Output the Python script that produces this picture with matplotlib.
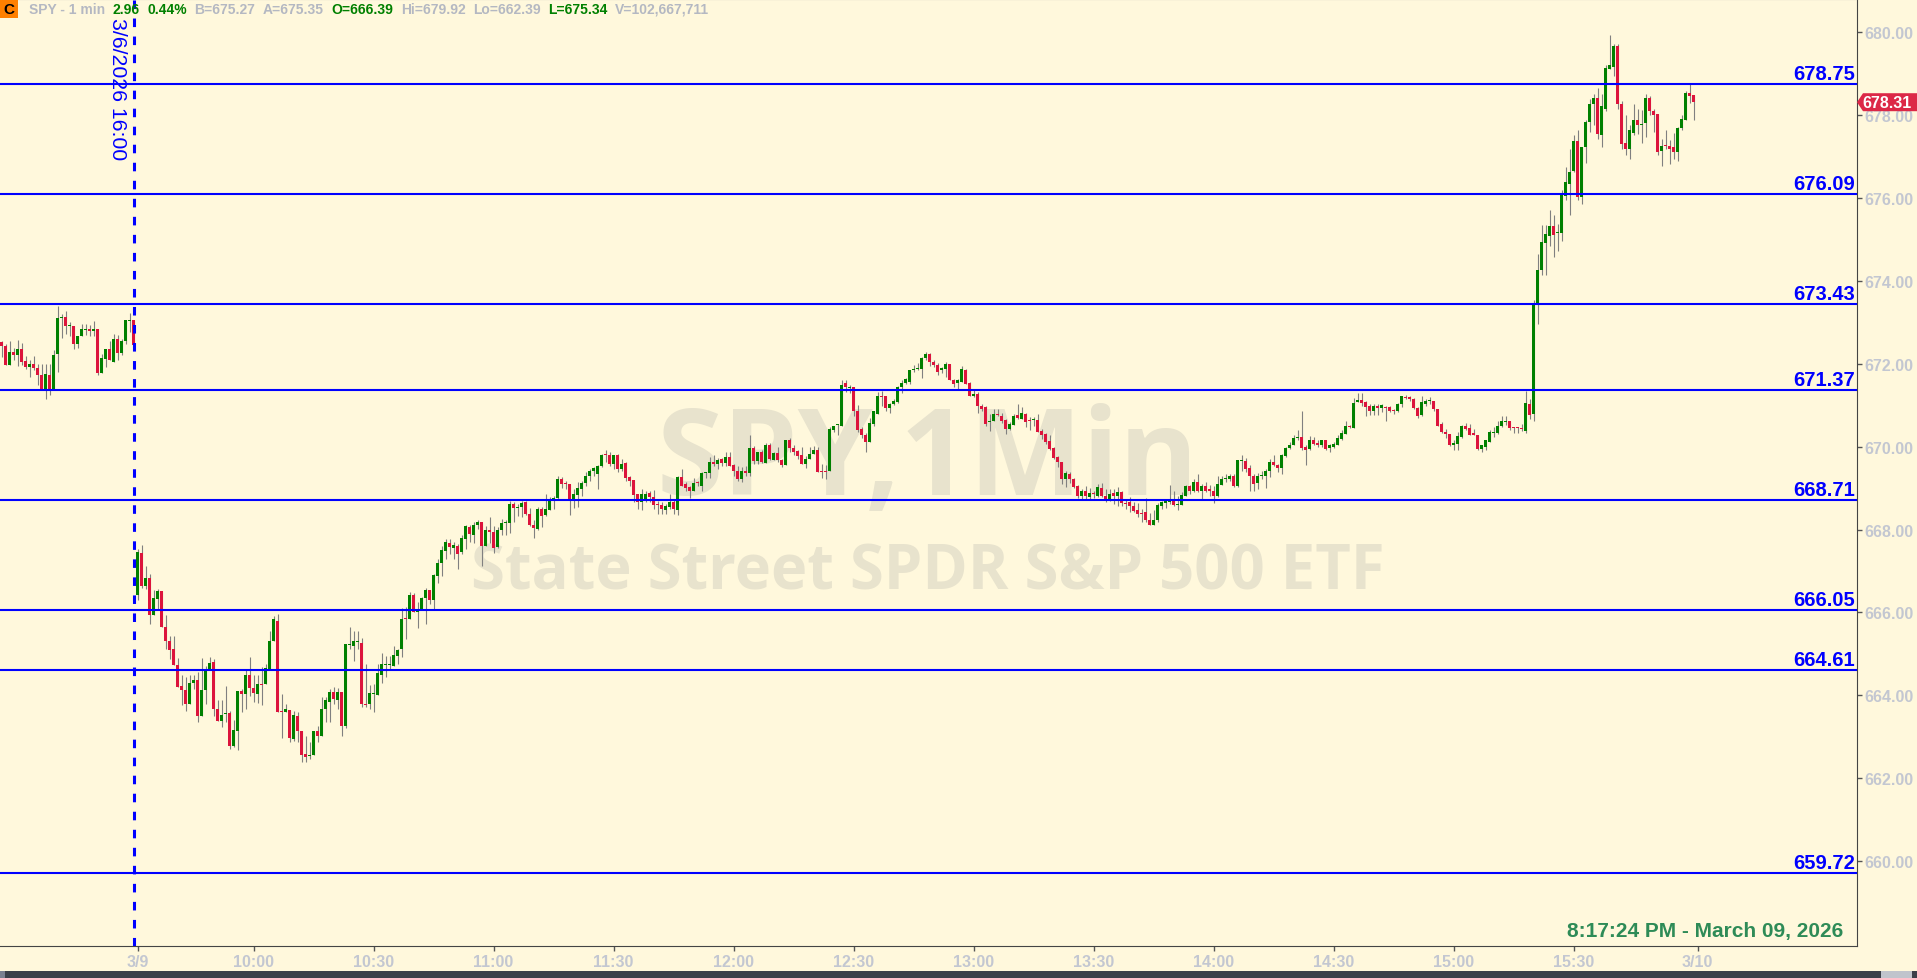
import matplotlib
matplotlib.use("Agg")
import matplotlib.pyplot as plt
import matplotlib.transforms as mtransforms
from matplotlib.patches import Polygon, Rectangle
import numpy as np

# SPY 1-min bars, last 34 bars of 3/6 then the full 3/9 session
prev_open = [672.52, 672.42, 671.97, 672.29, 672.22, 672.36, 672.07, 671.93, 671.99, 671.90,
             671.73, 671.40, 671.73, 671.40, 672.24, 673.11, 673.13, 672.91, 672.90, 672.48,
             672.66, 672.83, 672.84, 672.78, 672.84, 671.78, 672.12, 672.36, 672.05, 672.60,
             672.26, 672.54, 673.04, 673.06]
prev_high = [672.56, 672.48, 672.54, 672.38, 672.58, 672.50, 672.18, 672.09, 672.19, 671.99,
             671.99, 671.99, 671.99, 672.34, 673.40, 673.20, 673.28, 673.00, 672.90, 672.67,
             672.96, 672.96, 672.94, 673.03, 672.84, 672.24, 672.36, 672.54, 672.72, 672.70,
             672.60, 673.06, 673.23, 673.06]
prev_low = [672.16, 671.97, 671.97, 672.10, 671.94, 671.97, 671.88, 671.67, 671.85, 671.49,
            671.40, 671.14, 671.25, 671.40, 671.80, 672.62, 672.71, 672.68, 672.36, 672.38,
            672.66, 672.70, 672.68, 672.68, 671.73, 671.78, 671.93, 672.09, 672.05, 672.08,
            672.20, 672.48, 672.76, 672.34]
prev_close = [672.42, 671.97, 672.29, 672.22, 672.36, 672.05, 671.93, 671.99, 671.90, 671.72,
              671.40, 671.76, 671.40, 672.21, 673.11, 673.13, 672.92, 672.92, 672.48, 672.67,
              672.84, 672.84, 672.78, 672.84, 671.78, 672.14, 672.36, 672.09, 672.60, 672.26,
              672.55, 673.06, 673.06, 672.46]

sess_open = [
    666.41, 667.44, 666.63, 666.83, 665.93, 666.33, 666.52, 665.64, 665.30, 665.12,
    664.74, 664.23, 664.12, 663.80, 664.29, 664.38, 663.49, 664.12, 664.64, 664.80,
    663.67, 663.38, 663.55, 663.58, 662.77, 663.14, 664.10, 664.04, 664.48, 664.17,
    664.04, 664.27, 664.28, 664.64, 665.32, 665.80, 663.62, 663.61, 663.65, 662.94,
    663.50, 663.15, 662.58, 662.54, 662.57, 663.14, 663.03, 663.67, 663.85, 664.08,
    663.89, 664.09, 663.27, 665.22, 665.20, 665.30, 665.27, 663.80, 663.79, 664.04,
    664.02, 664.50, 664.74, 664.75, 664.70, 664.94, 665.12, 665.86, 665.85, 666.42,
    666.02, 666.09, 666.34, 666.55, 666.31, 666.89, 667.20, 667.49, 667.68, 667.56,
    667.61, 667.45, 667.78, 668.07, 667.88, 668.10, 668.18, 667.61, 668.00, 667.94,
    667.57, 667.98, 668.15, 668.15, 668.62, 668.53, 668.54, 668.66, 668.38, 668.11,
    668.02, 668.50, 668.34, 668.48, 668.72, 668.76, 669.22, 669.11, 669.10, 668.70,
    668.84, 668.98, 669.13, 669.29, 669.41, 669.33, 669.53, 669.81, 669.80, 669.59,
    669.79, 669.45, 669.61, 669.26, 669.20, 668.86, 668.66, 668.74, 668.89, 668.78,
    668.61, 668.60, 668.48, 668.54, 668.66, 668.48, 669.26, 669.09, 669.02, 668.92,
    669.14, 669.06, 669.36, 669.36, 669.64, 669.58, 669.71, 669.61, 669.75, 669.56,
    669.42, 669.22, 669.42, 669.36, 669.96, 669.66, 669.87, 669.61, 670.04, 669.67,
    669.85, 669.69, 669.56, 670.15, 669.97, 669.89, 669.79, 669.59, 669.71, 669.83,
    669.92, 669.42, 669.42, 669.42, 670.39, 670.52, 670.51, 671.54, 671.43, 671.44,
    670.85, 670.43, 670.29, 670.12, 670.55, 670.79, 671.22, 671.22, 670.94, 671.02,
    671.07, 671.44, 671.54, 671.56, 671.85, 671.87, 671.88, 672.14, 672.24, 672.05,
    671.97, 671.84, 671.88, 672.00, 671.62, 671.53, 671.57, 671.86, 671.53, 671.22,
    671.27, 670.99, 670.95, 670.61, 670.61, 670.79, 670.75, 670.65, 670.43, 670.53,
    670.77, 670.67, 670.79, 670.64, 670.65, 670.65, 670.37, 670.31, 670.13, 669.97,
    669.75, 669.63, 669.23, 669.34, 669.23, 669.06, 668.81, 668.93, 668.78, 668.88,
    668.82, 669.01, 668.81, 668.74, 668.88, 668.81, 668.90, 668.65, 668.66, 668.58,
    668.46, 668.40, 668.42, 668.24, 668.10, 668.22, 668.58, 668.64, 668.66, 668.70,
    668.61, 668.60, 668.82, 669.04, 668.92, 669.14, 668.92, 669.05, 668.98, 668.94,
    668.81, 669.08, 669.22, 669.21, 669.29, 669.05, 669.66, 669.65, 669.48, 669.30,
    669.12, 669.29, 669.29, 669.41, 669.63, 669.56, 669.49, 669.77, 669.97, 670.03,
    670.21, 670.23, 669.99, 669.95, 670.16, 670.09, 670.03, 670.15, 669.96, 670.00,
    670.04, 670.19, 670.31, 670.50, 670.45, 671.07, 671.13, 671.07, 670.97, 670.85,
    670.99, 670.94, 670.96, 670.96, 670.88, 670.85, 671.03, 671.18, 671.19, 671.15,
    670.93, 670.77, 671.03, 671.10, 671.11, 670.90, 670.55, 670.36, 670.31, 670.03,
    670.07, 670.23, 670.49, 670.45, 670.31, 670.27, 669.95, 669.99, 670.12, 670.33,
    670.33, 670.49, 670.60, 670.61, 670.46, 670.46, 670.44, 670.37, 671.03, 670.78,
    673.42, 674.25, 674.92, 675.09, 675.32, 675.16, 675.16, 676.04, 676.34, 676.64,
    677.38, 676.02, 677.22, 677.83, 678.27, 678.41, 677.52, 678.15, 679.11, 679.17,
    679.66, 678.27, 677.33, 677.18, 677.57, 677.87, 677.77, 677.81, 678.41, 678.10,
    678.03, 677.14, 677.26, 677.25, 677.22, 677.12, 677.68, 677.88, 678.54, 678.49,
]
sess_high = [
    667.53, 667.63, 667.13, 666.93, 666.53, 666.57, 666.52, 665.94, 665.44, 665.44,
    664.90, 664.49, 664.44, 664.50, 664.48, 664.56, 664.90, 664.72, 664.92, 664.87,
    663.89, 663.88, 664.22, 663.63, 663.41, 664.10, 664.16, 664.60, 664.92, 664.48,
    664.48, 664.68, 664.76, 665.56, 665.91, 665.97, 664.04, 663.79, 663.65, 663.63,
    663.59, 663.15, 663.02, 662.87, 663.15, 663.27, 663.95, 663.95, 664.16, 664.20,
    664.17, 664.09, 665.24, 665.64, 665.56, 665.55, 665.38, 664.76, 664.24, 664.28,
    664.76, 665.01, 664.96, 664.96, 665.19, 665.12, 666.10, 666.13, 666.49, 666.47,
    666.25, 666.37, 666.59, 666.55, 666.93, 667.28, 667.61, 667.78, 667.78, 667.69,
    667.65, 667.88, 668.11, 668.11, 668.18, 668.22, 668.19, 668.08, 668.30, 668.08,
    668.06, 668.26, 668.22, 668.68, 668.66, 668.62, 668.70, 668.70, 668.52, 668.22,
    668.54, 668.54, 668.86, 668.78, 668.80, 669.29, 669.26, 669.16, 669.10, 668.98,
    669.14, 669.16, 669.38, 669.46, 669.50, 669.56, 669.83, 669.93, 669.87, 669.79,
    669.83, 669.71, 669.63, 669.29, 669.20, 668.86, 668.98, 668.94, 668.94, 668.96,
    668.70, 668.66, 668.62, 668.86, 668.74, 669.30, 669.46, 669.14, 669.06, 669.24,
    669.18, 669.40, 669.40, 669.75, 669.80, 669.72, 669.72, 669.87, 669.88, 669.58,
    669.54, 669.50, 669.54, 670.27, 670.01, 669.88, 669.91, 670.09, 670.09, 669.87,
    669.99, 669.71, 670.15, 670.20, 670.03, 669.91, 669.99, 669.77, 669.99, 670.01,
    669.99, 669.59, 669.56, 670.47, 670.51, 670.55, 671.62, 671.60, 671.48, 671.44,
    671.01, 670.47, 670.33, 670.69, 670.87, 671.33, 671.35, 671.22, 671.06, 671.15,
    671.46, 671.60, 671.65, 671.84, 671.96, 672.02, 672.16, 672.28, 672.26, 672.10,
    672.02, 671.92, 672.04, 672.00, 671.64, 671.64, 671.94, 671.88, 671.56, 671.39,
    671.31, 671.03, 670.97, 670.79, 670.90, 670.90, 670.82, 670.67, 670.59, 670.79,
    671.03, 670.95, 670.82, 670.71, 670.71, 670.79, 670.43, 670.33, 670.27, 669.99,
    669.77, 669.64, 669.42, 669.40, 669.24, 669.08, 668.97, 669.06, 669.00, 668.94,
    669.10, 669.13, 668.98, 668.98, 668.97, 669.02, 668.94, 668.72, 668.78, 668.66,
    668.64, 668.50, 668.76, 668.40, 668.46, 668.64, 668.68, 668.74, 669.08, 668.92,
    668.82, 668.90, 669.08, 669.08, 669.21, 669.34, 669.10, 669.14, 669.08, 669.05,
    669.30, 669.30, 669.34, 669.34, 669.34, 669.67, 669.80, 669.72, 669.55, 669.34,
    669.37, 669.42, 669.45, 669.71, 669.79, 669.59, 669.83, 670.00, 670.11, 670.27,
    670.41, 670.87, 670.03, 670.25, 670.23, 670.15, 670.17, 670.16, 670.07, 670.12,
    670.27, 670.39, 670.61, 670.53, 671.17, 671.30, 671.30, 671.11, 671.03, 671.03,
    671.03, 671.03, 670.99, 670.99, 670.91, 671.06, 671.23, 671.25, 671.23, 671.17,
    670.95, 671.23, 671.14, 671.19, 671.11, 670.90, 670.59, 670.43, 670.31, 670.15,
    670.35, 670.53, 670.57, 670.55, 670.43, 670.27, 670.04, 670.17, 670.39, 670.47,
    670.63, 670.75, 670.75, 670.61, 670.47, 670.47, 670.55, 671.35, 671.14, 673.53,
    674.65, 675.35, 675.35, 675.70, 675.58, 675.38, 676.18, 676.74, 677.19, 677.52,
    677.63, 677.24, 677.87, 678.39, 678.51, 678.66, 678.51, 679.20, 679.92, 679.72,
    679.72, 678.35, 677.99, 677.75, 678.27, 678.15, 678.13, 678.51, 678.46, 678.15,
    678.03, 677.43, 677.64, 677.39, 677.57, 677.71, 677.99, 678.57, 678.74, 678.49,
]
sess_low = [
    666.29, 666.59, 666.57, 665.73, 665.93, 666.09, 665.64, 665.11, 664.88, 664.73,
    664.19, 663.77, 663.63, 663.80, 664.16, 663.35, 663.49, 663.78, 664.64, 663.51,
    663.37, 663.23, 663.35, 662.71, 662.75, 662.69, 663.59, 663.67, 663.99, 663.85,
    663.81, 663.76, 664.28, 664.60, 665.32, 663.61, 662.97, 663.61, 662.87, 662.89,
    662.87, 662.39, 662.39, 662.47, 662.55, 662.87, 663.03, 663.35, 663.35, 663.79,
    663.67, 663.02, 663.21, 665.12, 664.82, 665.12, 663.71, 663.71, 663.67, 663.61,
    664.02, 664.30, 664.44, 664.60, 664.70, 664.76, 664.92, 665.36, 665.85, 666.02,
    665.62, 666.05, 665.73, 666.21, 666.09, 666.71, 666.89, 667.28, 667.41, 667.28,
    667.04, 667.41, 667.53, 667.69, 667.68, 668.02, 667.12, 667.60, 667.68, 667.43,
    667.56, 667.86, 667.87, 667.92, 668.19, 668.32, 668.30, 668.34, 668.08, 667.79,
    668.00, 668.06, 668.32, 668.46, 668.50, 668.74, 669.00, 668.98, 668.34, 668.52,
    668.54, 668.82, 669.06, 669.16, 669.29, 668.98, 669.50, 669.64, 669.54, 669.46,
    669.40, 669.42, 669.18, 669.06, 668.66, 668.50, 668.46, 668.66, 668.66, 668.50,
    668.38, 668.38, 668.38, 668.50, 668.38, 668.35, 669.06, 668.92, 668.76, 668.92,
    669.06, 668.94, 669.24, 669.24, 669.54, 669.46, 669.53, 669.54, 669.54, 669.30,
    669.18, 669.14, 669.30, 669.29, 669.58, 669.58, 669.61, 669.61, 669.69, 669.67,
    669.64, 669.51, 669.55, 669.88, 669.79, 669.71, 669.59, 669.48, 669.71, 669.83,
    669.40, 669.24, 669.22, 669.42, 670.35, 670.27, 670.51, 671.31, 671.30, 670.74,
    670.35, 670.20, 669.88, 670.12, 670.49, 670.79, 670.99, 670.87, 670.82, 671.01,
    671.06, 671.30, 671.52, 671.52, 671.80, 671.86, 671.65, 672.08, 671.94, 671.92,
    671.72, 671.78, 671.68, 671.60, 671.44, 671.40, 671.57, 671.51, 671.22, 671.19,
    670.82, 670.85, 670.49, 670.37, 670.61, 670.75, 670.57, 670.31, 670.41, 670.53,
    670.67, 670.67, 670.47, 670.39, 670.49, 670.35, 670.19, 670.07, 669.91, 669.71,
    669.51, 669.10, 669.02, 669.13, 669.00, 668.76, 668.74, 668.74, 668.74, 668.76,
    668.78, 668.78, 668.66, 668.70, 668.62, 668.57, 668.56, 668.50, 668.43, 668.42,
    668.30, 668.18, 668.19, 668.10, 668.10, 668.19, 668.50, 668.52, 668.62, 668.58,
    668.46, 668.60, 668.82, 668.86, 668.90, 668.90, 668.73, 668.90, 668.81, 668.64,
    668.78, 669.08, 669.14, 669.16, 669.02, 669.02, 669.42, 669.40, 668.94, 668.94,
    668.98, 669.22, 669.00, 669.26, 669.53, 669.40, 669.33, 669.75, 669.95, 670.03,
    670.15, 669.91, 669.56, 669.93, 670.04, 669.99, 669.99, 669.93, 669.88, 669.96,
    670.03, 670.17, 670.31, 670.45, 670.45, 671.07, 670.98, 670.75, 670.77, 670.77,
    670.77, 670.83, 670.61, 670.83, 670.79, 670.83, 670.95, 671.14, 671.11, 670.90,
    670.69, 670.75, 670.99, 671.03, 670.87, 670.49, 670.33, 670.20, 670.01, 669.93,
    669.91, 670.20, 670.39, 670.29, 670.27, 669.93, 669.88, 669.91, 670.11, 670.23,
    670.31, 670.47, 670.53, 670.41, 670.33, 670.33, 670.37, 670.33, 670.67, 670.63,
    672.96, 674.15, 674.15, 674.84, 674.57, 674.71, 674.97, 675.96, 675.59, 676.62,
    675.94, 675.86, 676.85, 677.59, 677.76, 677.42, 677.22, 678.09, 679.10, 678.95,
    678.15, 677.17, 677.04, 676.94, 677.51, 677.55, 677.33, 677.47, 677.99, 677.59,
    677.04, 676.77, 677.18, 676.81, 676.93, 676.90, 677.65, 677.87, 678.29, 677.89,
]
sess_close = [
    667.47, 666.65, 666.83, 665.93, 666.35, 666.52, 665.64, 665.31, 665.09, 664.74,
    664.19, 664.12, 663.78, 664.30, 664.38, 663.49, 664.12, 664.58, 664.78, 663.66,
    663.37, 663.53, 663.56, 662.79, 663.17, 664.10, 664.04, 664.48, 664.18, 664.06,
    664.28, 664.25, 664.66, 665.32, 665.85, 663.61, 663.60, 663.67, 662.97, 663.53,
    663.14, 662.56, 662.52, 662.56, 663.15, 663.02, 663.67, 663.88, 664.08, 663.92,
    664.09, 663.25, 665.23, 665.24, 665.30, 665.32, 663.79, 663.77, 664.06, 664.06,
    664.54, 664.75, 664.76, 664.76, 664.98, 665.10, 665.85, 665.84, 666.42, 666.02,
    666.05, 666.35, 666.55, 666.29, 666.91, 667.20, 667.51, 667.69, 667.57, 667.63,
    667.41, 667.80, 668.08, 667.90, 668.11, 668.19, 667.60, 668.00, 667.94, 667.56,
    668.00, 668.16, 668.17, 668.62, 668.51, 668.55, 668.64, 668.38, 668.11, 668.03,
    668.50, 668.32, 668.50, 668.72, 668.76, 669.22, 669.09, 669.09, 668.70, 668.86,
    669.00, 669.13, 669.30, 669.42, 669.48, 669.54, 669.81, 669.79, 669.59, 669.79,
    669.45, 669.59, 669.25, 669.18, 668.84, 668.66, 668.86, 668.86, 668.78, 668.60,
    668.59, 668.50, 668.58, 668.66, 668.50, 669.26, 669.06, 669.01, 668.92, 669.13,
    669.12, 669.37, 669.38, 669.62, 669.58, 669.69, 669.61, 669.75, 669.54, 669.42,
    669.22, 669.42, 669.36, 669.96, 669.66, 669.87, 669.63, 670.04, 669.71, 669.85,
    669.67, 669.55, 670.15, 669.96, 669.87, 669.77, 669.59, 669.71, 669.83, 669.92,
    669.40, 669.40, 669.40, 670.43, 670.49, 670.53, 671.49, 671.44, 671.44, 670.85,
    670.41, 670.29, 670.11, 670.57, 670.85, 671.22, 671.20, 670.94, 671.03, 671.09,
    671.44, 671.54, 671.64, 671.84, 671.86, 671.88, 672.14, 672.24, 672.05, 671.96,
    671.81, 671.90, 672.00, 671.60, 671.51, 671.60, 671.88, 671.51, 671.22, 671.27,
    670.97, 670.91, 670.55, 670.62, 670.79, 670.77, 670.63, 670.43, 670.55, 670.74,
    670.69, 670.82, 670.59, 670.62, 670.66, 670.35, 670.27, 670.12, 669.95, 669.73,
    669.63, 669.21, 669.37, 669.21, 669.02, 668.81, 668.93, 668.81, 668.89, 668.87,
    669.02, 668.81, 668.70, 668.86, 668.81, 668.90, 668.64, 668.63, 668.56, 668.44,
    668.38, 668.38, 668.22, 668.10, 668.23, 668.60, 668.66, 668.68, 668.70, 668.60,
    668.62, 668.84, 669.05, 668.94, 669.14, 668.92, 669.05, 668.94, 668.92, 668.81,
    669.10, 669.22, 669.23, 669.29, 669.05, 669.67, 669.67, 669.46, 669.30, 669.10,
    669.29, 669.30, 669.42, 669.63, 669.55, 669.49, 669.80, 669.97, 670.05, 670.20,
    670.23, 669.97, 669.93, 670.16, 670.07, 670.03, 670.15, 669.95, 670.03, 670.07,
    670.20, 670.33, 670.49, 670.48, 671.06, 671.13, 671.06, 670.95, 670.85, 670.97,
    670.93, 671.01, 670.94, 670.87, 670.87, 671.03, 671.21, 671.17, 671.14, 670.93,
    670.75, 671.07, 671.09, 671.11, 670.90, 670.51, 670.35, 670.31, 670.03, 670.09,
    670.25, 670.51, 670.43, 670.29, 670.30, 669.95, 670.04, 670.15, 670.35, 670.34,
    670.51, 670.61, 670.61, 670.45, 670.45, 670.45, 670.42, 671.06, 670.77, 673.45,
    674.25, 674.93, 675.13, 675.32, 675.11, 675.17, 676.06, 676.38, 676.62, 677.38,
    676.02, 677.24, 677.84, 678.27, 678.41, 677.55, 678.21, 679.13, 679.20, 679.66,
    678.27, 677.31, 677.17, 677.64, 677.88, 677.75, 677.78, 678.41, 678.09, 678.00,
    677.12, 677.25, 677.25, 677.18, 677.10, 677.68, 677.91, 678.54, 678.45, 678.31,
]

levels = [678.75, 676.09, 673.43, 671.37, 668.71, 666.05, 664.61, 659.72]
ytick_vals = [660, 662, 664, 666, 668, 670, 672, 674, 676, 678, 680]
xtick_labels = ["3/9", "10:00", "10:30", "11:00", "11:30", "12:00", "12:30", "13:00",
                "13:30", "14:00", "14:30", "15:00", "15:30", "3/10"]
xtick_bars = [0, 29, 59, 89, 119, 149, 179, 209, 239, 269, 299, 329, 359, 390]

header = [("SPY - 1 min", "gray"), ("2.96", "green"), ("0.44%", "green"),
          ("B=675.27", "gray"), ("A=675.35", "gray"), ("O=666.39", "green"),
          ("Hi=679.92", "gray"), ("Lo=662.39", "gray"), ("L=675.34", "green"),
          ("V=102,667,711", "gray")]

assert len(sess_open) == len(sess_high) == len(sess_low) == len(sess_close) == 390
assert len(prev_open) == len(prev_high) == len(prev_low) == len(prev_close) == 34

W, H = 1917, 979
BG = "#fff8dc"
UP, DN, WICK = "#008000", "#dc143c", "#808080"
BLUE = "#0000ff"
AXTXT = "#c3c7d1"
FONT = "Liberation Sans"


def fy(py):
    # pixel row measured from the top -> figure fraction
    return 1 - py / H


fig = plt.figure(figsize=(W / 100, H / 100), dpi=100, facecolor=BG)
ax_bottom = 946.7
ax = fig.add_axes([0, fy(ax_bottom), 1857 / W, ax_bottom / H], facecolor=BG)

o = np.array(prev_open + sess_open)
h = np.array(prev_high + sess_high)
l = np.array(prev_low + sess_low)
c = np.array(prev_close + sess_close)
x = np.arange(-len(prev_open), len(sess_open))

hi = np.maximum(h, np.maximum(o, c))
lo = np.minimum(l, np.minimum(o, c))
up = c >= o
body_h = np.abs(c - o)
body_lo = np.minimum(o, c)
min_h = 0.025
small = body_h < min_h
body_lo = np.where(small, (o + c) / 2 - min_h / 2, body_lo)
body_h = np.maximum(body_h, min_h)

ax.vlines(x, lo, hi, color=WICK, lw=0.8, zorder=2)
ax.bar(x, body_h, bottom=body_lo, width=0.72, color=np.where(up, UP, DN), lw=0, zorder=3)

ax.set_xlim(-34.375, 429.875)
ax.set_ylim(657.96, 680.80)

# support / resistance levels
lab_tr = mtransforms.offset_copy(ax.get_yaxis_transform(), fig=fig, x=-2, y=5, units="dots")
for lv in levels:
    ax.axhline(lv, color=BLUE, lw=1.5, zorder=4)
    ax.text(1.0, lv, f"{lv:.2f}", transform=lab_tr, ha="right", va="baseline",
            color=BLUE, fontsize=14.5, fontweight="bold", family=FONT, zorder=5)

# previous close marker
ax.axvline(-1, color=BLUE, lw=2.2, linestyle=(0, (2.8, 3.1)), zorder=4)
dlab = fig.text(117 / W, fy(18), "3/6/2026 16:00", rotation=270, ha="center", va="top",
                color=BLUE, fontsize=15, family=FONT)

# watermark
wm1 = ax.text(927 / W, fy(495), "SPY,1Min", transform=fig.transFigure, ha="center",
              va="baseline", color="#e8e3cd", fontsize=100, fontweight="bold",
              family="Open Sans", zorder=1)
wm2 = ax.text(928 / W, fy(589), "State Street SPDR S&P 500 ETF", transform=fig.transFigure,
              ha="center", va="baseline", color="#e8e3cd", fontsize=48, fontweight="bold",
              family="Open Sans", zorder=1)
fig.canvas.draw()
rend = fig.canvas.get_renderer()
for t, target in ((wm1, 542), (wm2, 914)):
    w = t.get_window_extent(rend).width
    t.set_fontsize(t.get_fontsize() * target / w)
# the rotated date label runs about 142 px down the chart
dh = dlab.get_window_extent(rend).height
dlab.set_fontsize(dlab.get_fontsize() * 142 / dh)

# axes styling
ax.yaxis.tick_right()
ax.set_yticks(ytick_vals)
ax.set_yticklabels([f"{v:.2f}" for v in ytick_vals])
ax.set_xticks(xtick_bars)
ax.set_xticklabels(xtick_labels)
ax.tick_params(axis="y", length=3.6, width=1, color="#555555", labelcolor=AXTXT,
               pad=1.5, labelsize=11.5)
ax.tick_params(axis="x", length=3.6, width=1, color="#555555", labelcolor=AXTXT,
               pad=2.5, labelsize=11.5)
for lbl in ax.get_yticklabels() + ax.get_xticklabels():
    lbl.set_fontweight("bold")
    lbl.set_family(FONT)
ax.spines["left"].set_visible(False)
ax.spines["top"].set_color("#9a9a9a")
ax.spines["right"].set_color("#444444")
ax.spines["bottom"].set_color("#444444")

# last price tag
ty = ax.transData.transform((0, sess_close[-1]))[1] / H
th = 9 / H
tag = Polygon([(1857 / W, ty), (1863 / W, ty + th), (1.0, ty + th), (1.0, ty - th),
               (1863 / W, ty - th)], closed=True, transform=fig.transFigure,
              facecolor="#dc2847", edgecolor="none", zorder=10)
fig.patches.append(tag)
fig.text(1862 / W, ty, f"{sess_close[-1]:.2f}", ha="left", va="center", color="white",
         fontsize=11.5, fontweight="bold", family=FONT, zorder=11)

# header line
fig.patches.append(Rectangle((0, fy(19)), 18 / W, 19 / H, transform=fig.transFigure,
                             facecolor="#ff8000", edgecolor="none", zorder=10))
fig.text(9 / W, fy(10), "C", ha="center", va="center", color="black", fontsize=11,
         fontweight="bold", family=FONT, zorder=11)
cols = {"gray": "#b4b8c2", "green": "#008000"}
hx = 29
for txt, col in header:
    t = fig.text(hx / W, fy(10), txt, ha="left", va="center", color=cols[col],
                 fontsize=10, fontweight="bold", family=FONT, zorder=11)
    hx += t.get_window_extent(rend).width + 7.5

# clock
fig.text(1843 / W, fy(936.7), "8:17:24 PM - March 09, 2026", ha="right", va="baseline",
         color="#2e8b57", fontsize=15, fontweight="bold", family=FONT)

# scrollbar strip
fig.patches.append(Rectangle((0, 0), 1, 7.5 / H, transform=fig.transFigure,
                             facecolor="#3b4049", edgecolor="none"))
fig.patches.append(Rectangle((1881 / W, 0), 31 / W, 7.5 / H, transform=fig.transFigure,
                             facecolor="#c0c4cc", edgecolor="none"))
fig.patches.append(Rectangle((0, 0), 5 / W, 7.5 / H, transform=fig.transFigure,
                             facecolor="#7a8090", edgecolor="none"))

fig.savefig("out.png", dpi=100, facecolor=BG)
